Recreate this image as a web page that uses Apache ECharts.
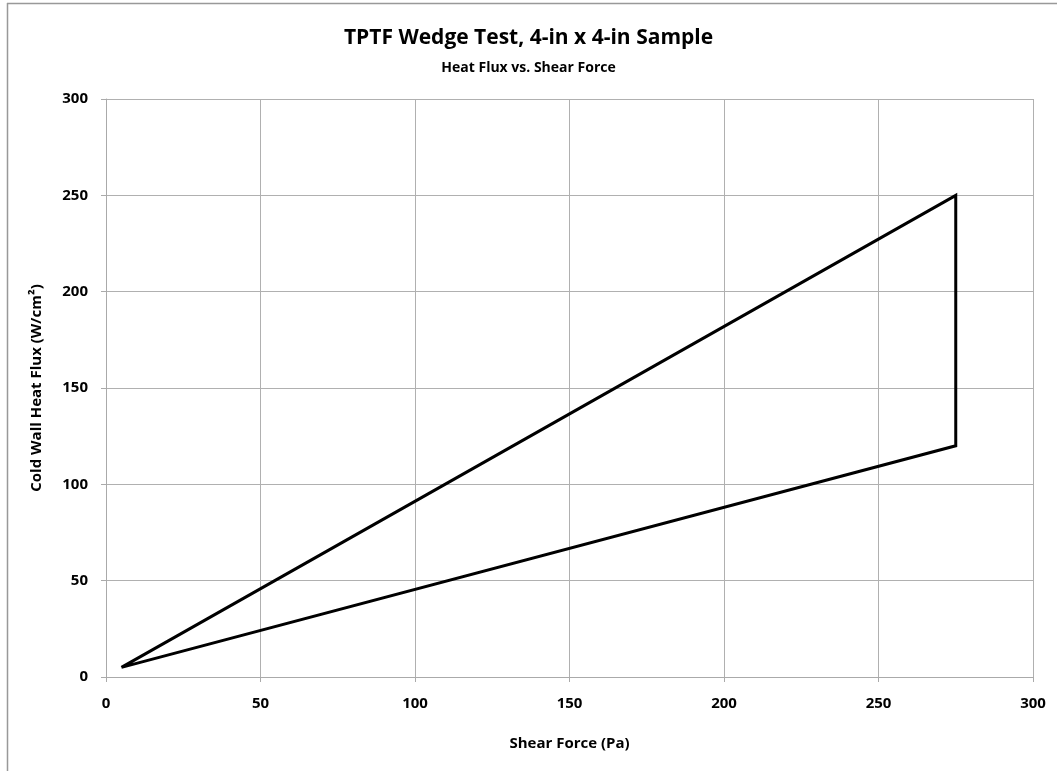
<!DOCTYPE html>
<html>
<head>
<meta charset="utf-8">
<script src="https://cdn.jsdelivr.net/npm/echarts@6/dist/echarts.min.js"></script>
<style>html,body{margin:0;padding:0;background:#fff}#c{width:1057px;height:771px}</style>
</head>
<body>
<div id="c"></div>
<script>
var shearForce = [5, 275, 275, 5];
var heatFlux = [5, 250, 120, 5];
var xTicks = [0, 50, 100, 150, 200, 250, 300];
var yTicks = [0, 50, 100, 150, 200, 250, 300];

var FONT = '"Open Sans", "Noto Sans", sans-serif';
var data = shearForce.map(function (x, i) { return [x, heatFlux[i]]; });

var chart = echarts.init(document.getElementById('c'));
chart.setOption({
  animation: false,
  backgroundColor: '#fff',
  title: [{
    text: 'TPTF Wedge Test, 4-in x 4-in Sample',
    left: 'center', top: 23,
    textStyle: { fontFamily: FONT, fontSize: 21, fontWeight: 'bold', color: '#000' }
  }, {
    text: 'Heat Flux vs. Shear Force',
    left: 'center', top: 56,
    textStyle: { fontFamily: FONT, fontSize: 14, fontWeight: 'bold', color: '#000' }
  }],
  graphic: [
    { type: 'line', shape: { x1: 7, y1: 3.5, x2: 1057, y2: 3.5 }, style: { stroke: '#999', lineWidth: 1.5 } },
    { type: 'line', shape: { x1: 7.5, y1: 3, x2: 7.5, y2: 771 }, style: { stroke: '#999', lineWidth: 1.5 } }
  ],
  grid: { left: 106, right: 24, top: 99, bottom: 94 },
  xAxis: {
    type: 'value', min: 0, max: 300, interval: 50,
    name: 'Shear Force (Pa)', nameLocation: 'middle', nameGap: 59,
    nameTextStyle: { fontFamily: FONT, fontSize: 15, fontWeight: 'bold', color: '#000' },
    axisLine: { show: true, lineStyle: { color: '#aaa', width: 1 } },
    axisTick: { show: true, length: 5, lineStyle: { color: '#aaa' } },
    axisLabel: { fontFamily: FONT, fontSize: 15, fontWeight: 'bold', color: '#000', margin: 19,
      formatter: function (v) { return xTicks.indexOf(v) >= 0 ? String(v) : ''; } },
    splitLine: { show: true, lineStyle: { color: '#b0b0b0', width: 1 } }
  },
  yAxis: {
    type: 'value', min: 0, max: 300, interval: 50,
    name: 'Cold Wall Heat Flux (W/cm²)', nameLocation: 'middle', nameGap: 62,
    nameTextStyle: { fontFamily: FONT, fontSize: 15, fontWeight: 'bold', color: '#000' },
    axisLine: { show: true, lineStyle: { color: '#aaa', width: 1 } },
    axisTick: { show: true, length: 5, lineStyle: { color: '#aaa' } },
    axisLabel: { fontFamily: FONT, fontSize: 15, fontWeight: 'bold', color: '#000', margin: 18,
      formatter: function (v) { return yTicks.indexOf(v) >= 0 ? String(v) : ''; } },
    splitLine: { show: true, lineStyle: { color: '#b0b0b0', width: 1 } }
  },
  series: [{
    type: 'line',
    data: data,
    showSymbol: false,
    symbol: 'none',
    lineStyle: { color: '#000', width: 3, join: 'miter' },
    z: 5
  }]
});
</script>
</body>
</html>
